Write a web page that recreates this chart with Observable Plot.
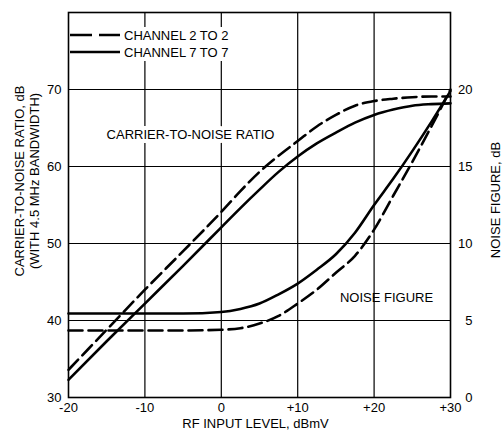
<!DOCTYPE html>
<html><head><meta charset="utf-8">
<script src="https://cdn.jsdelivr.net/npm/d3@7"></script>
<script src="https://cdn.jsdelivr.net/npm/@observablehq/plot@0.6"></script>
<style>
html,body{margin:0;padding:0;background:#fff;}
#chart{position:relative;width:503px;height:437px;font-family:"Liberation Sans",Arial,sans-serif;}
#legend{position:absolute;left:70px;top:26.5px;font-size:13px;color:#000;}
.row{display:flex;align-items:center;height:17px;}
.row svg{width:50px;height:6px;margin-right:2px;display:block;}
.row span{background:#fff;padding:1px 2px;line-height:15px;}
</style></head>
<body>
<div id="chart"></div>
<script>
const inputLevel = [-20,-15,-10,-5,0,2.5,5,7.5,10,12.5,15,17.5,20,22.5,25,27.5,30];
const cnChannel2 = [33.6,38.8,44.0,49.0,54.1,56.8,59.3,61.4,63.3,65.2,66.7,67.9,68.5,68.8,69.0,69.1,69.1];
const cnChannel7 = [32.3,37.3,42.2,47.1,52.1,54.6,57.0,59.3,61.3,63.0,64.4,65.7,66.7,67.4,67.9,68.1,68.2];
const nfChannel2 = [4.35,4.35,4.35,4.35,4.4,4.5,4.8,5.3,6.1,7.0,8.1,9.2,10.9,13.1,15.3,17.6,20.0];
const nfChannel7 = [5.45,5.45,5.45,5.45,5.55,5.75,6.1,6.7,7.4,8.3,9.3,10.7,12.5,14.2,16.0,17.9,19.9];

const xTicks = [-20,-10,0,10,20,30];
const xTickLabels = ["-20","-10","0","+10","+20","+30"];
const cnTicks = [30,40,50,60,70];
const nfTickLabels = ["0","5","10","15","20"];
const gridX = [-10,0,10,20];
const gridY = [40,50,60,70];
const seriesNames = ["CHANNEL 2 TO 2","CHANNEL 7 TO 7"];

// noise figure (right axis 0..20) maps onto C/N axis 30..70
const nfToCn = nf => 30 + 2 * nf;

const rows = (ys, series) => inputLevel.map((x, i) => ({x, y: ys[i], series}));
const cn2 = rows(cnChannel2, seriesNames[0]);
const cn7 = rows(cnChannel7, seriesNames[1]);
const nf2 = rows(nfChannel2.map(nfToCn), seriesNames[0]);
const nf7 = rows(nfChannel7.map(nfToCn), seriesNames[1]);

const DASH = "14,6";
const LW = 2.6;

const chart = Plot.plot({
  width: 503, height: 437,
  marginLeft: 68, marginRight: 53, marginTop: 12, marginBottom: 40,
  x: {domain: [-20, 30]},
  y: {domain: [30, 80]},
  style: {fontFamily: "'Liberation Sans', Arial, sans-serif", fontSize: "13px", color: "#000", background: "#fff"},
  marks: [
    Plot.ruleX(gridX, {stroke: "#000", strokeWidth: 1.2}),
    Plot.ruleY(gridY, {stroke: "#000", strokeWidth: 1.2}),
    Plot.text(["CARRIER-TO-NOISE RATIO"], {frameAnchor: "top-left", dx: 122, dy: 117, textAnchor: "middle", fill: "#000", stroke: "#fff", strokeWidth: 8, paintOrder: "stroke", fontSize: 13}),
    Plot.text(["NOISE FIGURE"], {frameAnchor: "top-left", dx: 318, dy: 280, textAnchor: "middle", fill: "#000", fontSize: 13}),
    Plot.line(cn7, {x: "x", y: "y", stroke: "#000", strokeWidth: LW, curve: "monotone-x"}),
    Plot.line(cn2, {x: "x", y: "y", stroke: "#000", strokeWidth: LW, strokeDasharray: DASH, curve: "monotone-x"}),
    Plot.line(nf7, {x: "x", y: "y", stroke: "#000", strokeWidth: LW, curve: "monotone-x"}),
    Plot.line(nf2, {x: "x", y: "y", stroke: "#000", strokeWidth: LW, strokeDasharray: DASH, curve: "monotone-x"}),
    Plot.frame({stroke: "#000", strokeWidth: 1.6}),
    Plot.axisX(xTicks, {anchor: "bottom", tickSize: 0, tickPadding: 5, tickFormat: d => xTickLabels[xTicks.indexOf(d)], label: null, fontSize: 13}),
    Plot.axisY(cnTicks, {anchor: "left", tickSize: 0, tickPadding: 7, label: null, fontSize: 13}),
    Plot.axisY(cnTicks, {anchor: "right", tickSize: 0, tickPadding: 22, textAnchor: "end", tickFormat: d => nfTickLabels[cnTicks.indexOf(d)], label: null, fontSize: 13}),
    Plot.text(["CARRIER-TO-NOISE RATIO, dB"], {frameAnchor: "left", rotate: -90, dx: -49, dy: -24, textAnchor: "middle", fontSize: 13}),
    Plot.text(["(WITH 4.5 MHz BANDWIDTH)"], {frameAnchor: "left", rotate: -90, dx: -34, dy: -24, textAnchor: "middle", fontSize: 13}),
    Plot.text(["NOISE FIGURE, dB"], {frameAnchor: "right", rotate: -90, dx: 45, dy: -5, textAnchor: "middle", fontSize: 13}),
    Plot.text(["RF INPUT LEVEL, dBmV"], {frameAnchor: "bottom", dx: -4, dy: 30, textAnchor: "middle", fontSize: 13})
  ]
});

const container = document.getElementById("chart");
container.appendChild(chart);

const legend = document.createElement("div");
legend.id = "legend";
seriesNames.forEach((name, i) => {
  const row = document.createElement("div");
  row.className = "row";
  const dash = i === 0 ? 'stroke-dasharray="22,7"' : "";
  row.innerHTML = `<svg viewBox="0 0 50 6"><line x1="0" x2="50" y1="3" y2="3" stroke="#000" stroke-width="${LW}" ${dash}/></svg><span>${name}</span>`;
  legend.appendChild(row);
});
container.appendChild(legend);
</script>
</body></html>
